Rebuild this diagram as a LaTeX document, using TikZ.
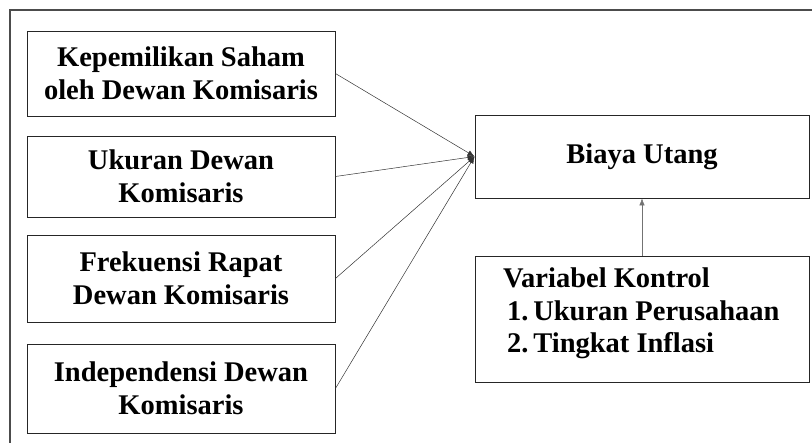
\documentclass[tikz,border=0pt]{standalone}
\usepackage{fontspec}
\setmainfont{Liberation Serif}
\usetikzlibrary{arrows.meta}
\begin{document}
\begin{tikzpicture}[x=1pt,y=-1pt,
  box/.style={draw=black!85, line width=0.9pt, inner sep=0pt, align=center,
    font=\fontsize{28.5}{32.5}\selectfont\bfseries},
  conn/.style={draw=black!80, line width=0.5pt, -{Latex[length=7pt,width=5.5pt]}}]
\useasboundingbox (0,0) rectangle (812,443);
\draw[line width=1.1pt, black!70] (10,443) -- (10,10) -- (812,10);
\node[box, minimum width=308pt, minimum height=85pt] (k1) at (181,73.5) {Kepemilikan Saham\\oleh Dewan Komisaris};
\node[box, minimum width=308pt, minimum height=81pt] (k2) at (181,176.5) {Ukuran Dewan\\Komisaris};
\node[box, minimum width=308pt, minimum height=87pt] (k3) at (181,278.5) {Frekuensi Rapat\\Dewan Komisaris};
\node[box, minimum width=308pt, minimum height=89pt] (k4) at (181,388.5) {Independensi Dewan\\Komisaris};
\node[box, minimum width=334pt, minimum height=83pt] (by) at (642,156.5) {Biaya Utang};
\node[box, minimum width=334pt, minimum height=126pt] (vk) at (642,319) {};
\node[anchor=north west, inner sep=0pt, align=left,
  font=\fontsize{28.5}{32.5}\selectfont\bfseries] (vkt) at (503,268)
  {Variabel Kontrol\\\hspace{4pt}1.\,Ukuran Perusahaan\\\hspace{4pt}2.\,Tingkat Inflasi};
\draw[conn] (k1.east) -- (by.west);
\draw[conn] (k2.east) -- (by.west);
\draw[conn] (k3.east) -- (by.west);
\draw[conn] (k4.east) -- (by.west);
\draw[conn, draw=black!55] (vk.north) -- (by.south);
\end{tikzpicture}
\end{document}
